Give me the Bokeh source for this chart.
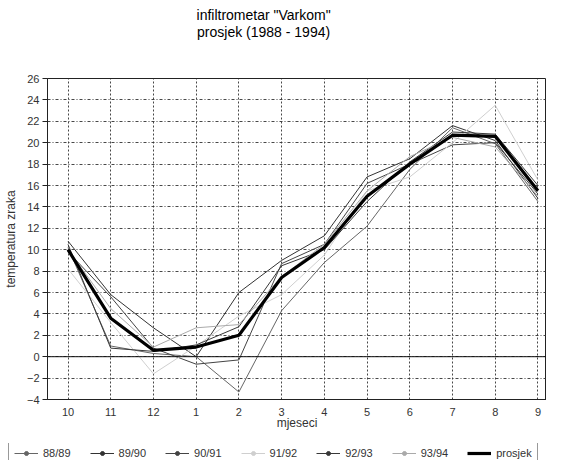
from bokeh.plotting import figure
from bokeh.models import Range1d, FixedTicker, Span, Legend, LegendItem, Label
from bokeh.layouts import column, row
from bokeh.embed import file_html
from bokeh.resources import INLINE

months = ["10", "11", "12", "1", "2", "3", "4", "5", "6", "7", "8", "9"]
y_ticks = list(range(-4, 27, 2))

s8889 = [10.2, 1.0, 0.3, 0.0, -3.3, 4.3, 8.8, 12.2, 17.5, 21.4, 19.9, 14.5]
s8990 = [10.8, 5.8, 2.7, 0.0, 6.0, 9.0, 11.3, 16.8, 18.5, 21.6, 20.2, 14.8]
s9091 = [9.8, 5.6, 0.8, -0.7, -0.3, 8.7, 10.5, 16.2, 18.0, 19.8, 20.0, 15.2]
s9192 = [8.2, 3.2, -1.6, 1.0, 3.8, 5.8, 9.5, 15.5, 16.8, 20.0, 23.5, 16.5]
s9293 = [10.5, 0.8, 0.5, 1.1, 2.8, 8.5, 10.0, 14.5, 18.2, 21.0, 20.8, 16.0]
s9394 = [10.0, 4.5, 0.9, 2.7, 3.0, 7.5, 10.5, 15.5, 18.7, 20.5, 19.6, 15.0]
prosjek = [10.0, 3.6, 0.6, 0.9, 2.0, 7.4, 10.2, 15.0, 18.0, 20.7, 20.6, 15.5]

series = [
    ("88/89", s8889, "#666666", 1),
    ("89/90", s8990, "#333333", 1),
    ("90/91", s9091, "#444444", 1),
    ("91/92", s9192, "#cfcfcf", 1),
    ("92/93", s9293, "#383838", 1),
    ("93/94", s9394, "#aaaaaa", 1),
    ("prosjek", prosjek, "#000000", 3.2),
]

title_lines = ['infiltrometar "Varkom"', "prosjek (1988 - 1994)"]

FONT = "Liberation Sans"
xs = list(range(len(months)))

# Title strip
tf = figure(width=546, height=70, output_backend="svg", toolbar_location=None,
            x_range=Range1d(46, 554), y_range=Range1d(70, 0),
            min_border_left=38, min_border_right=0, min_border_top=0,
            min_border_bottom=0)
tf.axis.visible = False
tf.grid.visible = False
tf.outline_line_color = None
for i, t in enumerate(title_lines):
    tf.add_layout(Label(x=266, y=14 + 17 * i, text=t, text_align="center",
                        text_baseline="middle", text_font=FONT,
                        text_font_size="14px", text_color="#000000"))

p = figure(width=546, height=373, output_backend="svg", toolbar_location=None,
           x_range=Range1d(-0.48, 11.2), y_range=Range1d(-4, 26),
           min_border_left=38, min_border_right=0, min_border_top=8,
           min_border_bottom=44)
p.title = None
p.background_fill_color = "white"
p.border_fill_color = "white"
p.outline_line_color = "#222222"
p.outline_line_width = 1

# Axes
p.xaxis.ticker = FixedTicker(ticks=xs)
p.xaxis.major_label_overrides = {i: m for i, m in enumerate(months)}
p.yaxis.ticker = FixedTicker(ticks=y_ticks)
for ax in (p.xaxis[0], p.yaxis[0]):
    ax.major_label_text_font = FONT
    ax.major_label_text_font_size = "11px"
    ax.major_label_text_color = "#333333"
    ax.axis_label_text_font = FONT
    ax.axis_label_text_font_size = "12px"
    ax.axis_label_text_font_style = "normal"
    ax.axis_label_text_color = "#333333"
    ax.axis_line_color = "#222222"
    ax.minor_tick_line_color = None
p.xaxis.axis_label = "mjeseci"
p.yaxis.axis_label = "temperatura zraka"
p.xaxis.major_tick_line_color = None
p.xaxis.major_label_standoff = 2
p.xaxis.axis_label_standoff = -3
p.yaxis.major_tick_in = 0
p.yaxis.major_tick_out = 5
p.yaxis.major_tick_line_color = "#222222"
p.yaxis.major_label_standoff = 3
p.yaxis.axis_label_standoff = 6

# Grid
p.xgrid.ticker = FixedTicker(ticks=xs)
p.ygrid.ticker = FixedTicker(ticks=y_ticks)
p.xgrid.grid_line_color = "#333333"
p.xgrid.grid_line_dash = "2 2"
p.xgrid.grid_line_alpha = 0.9
p.ygrid.grid_line_color = "#333333"
p.ygrid.grid_line_dash = "3 2 1 2"
p.ygrid.grid_line_alpha = 0.9

p.add_layout(Span(location=0, dimension="width", line_color="#111111", line_width=1))

for name, vals, col, w in series:
    p.line(xs, vals, line_color=col, line_width=w)

# Legend strip
lg = figure(width=546, height=17, output_backend="svg", toolbar_location=None,
            x_range=Range1d(-0.48, 11.2), y_range=Range1d(-4, 26),
            min_border_left=0, min_border_right=0, min_border_top=0,
            min_border_bottom=0)
lg.axis.visible = False
lg.grid.visible = False
lg.outline_line_color = None
lg.title = None

items = []
for name, vals, col, w in series:
    rends = [lg.line(xs, vals, line_color=col, line_width=w, visible=False)]
    if w < 2:
        rends.append(lg.scatter(xs, vals, size=3, marker="circle",
                                fill_color=col, line_color=col, visible=False))
    items.append(LegendItem(label=name, renderers=rends))

legend = Legend(items=items, orientation="horizontal", location=(8, -5),
                label_text_font=FONT, label_text_font_size="11px",
                label_text_color="#333333", glyph_width=24, glyph_height=10,
                label_standoff=5, spacing=19, padding=5, margin=0,
                border_line_color="#333333", label_height=12,
                background_fill_alpha=0, inactive_fill_alpha=0)
lg.add_layout(legend, "center")

layout = column(tf, p, row(lg), spacing=0)
open("out.html", "w").write(file_html(layout, INLINE))
